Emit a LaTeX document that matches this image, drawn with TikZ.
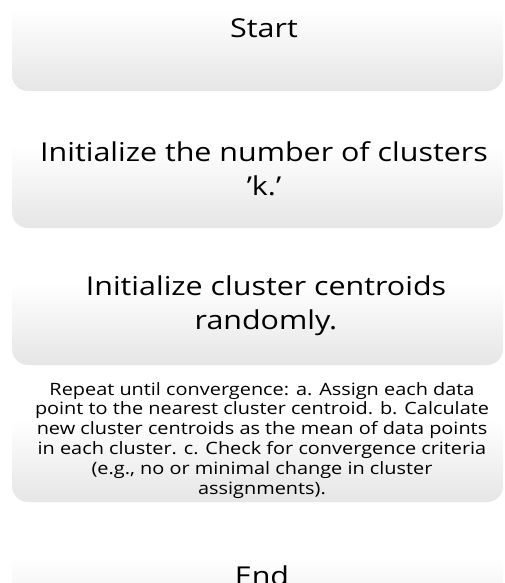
\documentclass[tikz,border=0pt]{standalone}
\usepackage{fontspec}
\setmainfont[FakeStretch=1.17]{Open Sans}
\pgfdeclareverticalshading{boxfade}{100bp}{color(0bp)=(black!12); color(30bp)=(black!9); color(70bp)=(white); color(100bp)=(white)}
\begin{document}
\begin{tikzpicture}[x=1pt, y=1pt,
    box/.style={rectangle, rounded corners=16pt, minimum width=491pt, minimum height=91pt, shading=boxfade, draw=none},
    big/.style={font=\fontsize{26}{34}\selectfont, align=center, inner sep=0pt, anchor=base},
    small/.style={font=\fontsize{17}{19.8}\selectfont, align=center, inner sep=0pt, anchor=base},
]
\useasboundingbox (0,0) rectangle (505,-583);
\clip (0,0) rectangle (505,-583);
% boxes
\node[box] (b1) at (257.5,-45.5) {};
\node[box] (b2) at (257.5,-182.5) {};
\node[box] (b3) at (257.5,-319.5) {};
\node[box] (b4) at (257.5,-456.5) {};
\node[box] (b5) at (257.5,-593.5) {};

% texts
\node[big] (t1) at (264,-38) {Start};
\node[big] (t2) at (264,-195) {Initialize the number of clusters\\'k.'};
\node[big] (t3) at (266,-329) {Initialize cluster centroids\\randomly.};
\node[small] (t4) at (262,-494) {Repeat until convergence: a. Assign each data\\point to the nearest cluster centroid. b. Calculate\\new cluster centroids as the mean of data points\\in each cluster. c. Check for convergence criteria\\(e.g., no or minimal change in cluster\\assignments).};
\node[big] (t5) at (262,-585) {End};
\end{tikzpicture}
\end{document}
